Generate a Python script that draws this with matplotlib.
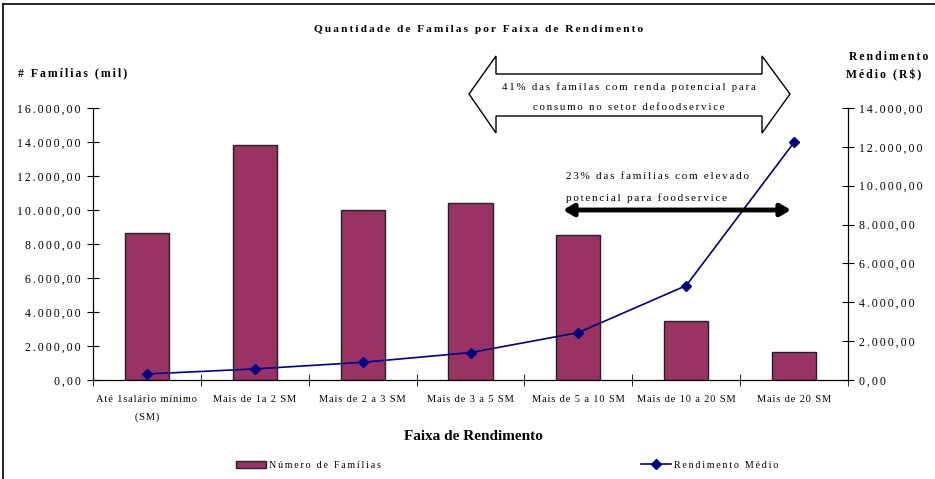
import matplotlib.pyplot as plt
from matplotlib.patches import Polygon, FancyArrowPatch, Rectangle
from matplotlib.ticker import FuncFormatter, FixedLocator
from matplotlib.lines import Line2D

faixas = ['Até 1salário mínimo\n(SM)', 'Mais de 1a 2 SM', 'Mais de 2 a 3 SM',
          'Mais de 3 a 5 SM', 'Mais de 5 a 10 SM', 'Mais de 10 a 20 SM',
          'Mais de 20 SM']
familias = [8660, 13800, 10020, 10430, 8530, 3490, 1630]
rendimento = [310, 570, 910, 1410, 2440, 4860, 12230]

plt.rcParams['font.family'] = ['Liberation Serif', 'DejaVu Serif']

def sp(s, n=2):
    # fake letter spacing with hair spaces
    return ('\u200a' * n).join(s)

def br(v, pos=None):
    s = '{:,.2f}'.format(v).replace(',', 'X').replace('.', ',').replace('X', '.')
    return sp(s)

W, H = 935, 479
fig = plt.figure(figsize=(W / 100, H / 100), dpi=100)

def fx(px):
    return px / W

def fy(py):
    return 1 - py / H

# border (top and left only)
fig.add_artist(Line2D([fx(3), fx(3)], [0, fy(4)], color='black', lw=1.2))
fig.add_artist(Line2D([fx(3), 1], [fy(4), fy(4)], color='black', lw=1.2))

ax = fig.add_axes([fx(93), fy(380), fx(848) - fx(93), fy(108) - fy(380)])
x = list(range(len(faixas)))
ax.bar(x, familias, width=0.41, color='#993366', edgecolor='#222222', linewidth=1, zorder=2)
ax.set_xlim(-0.5, len(faixas) - 0.5)
ax.set_ylim(0, 16000)
ax.set_yticks(range(0, 16001, 2000))
ax.yaxis.set_major_formatter(FuncFormatter(br))
ax.set_xticks(x)
ax.set_xticklabels([sp(f, 1) for f in faixas], fontsize=7.5, linespacing=2.1)
ax.xaxis.set_minor_locator(FixedLocator([i - 0.5 for i in range(len(faixas) + 1)]))
ax.tick_params(axis='x', which='major', length=0, pad=11)
ax.tick_params(axis='x', which='minor', length=8, direction='inout')
ax.tick_params(axis='y', direction='inout', length=8, labelsize=8.5, pad=5)
ax.spines['top'].set_visible(False)

ax2 = ax.twinx()
ax2.plot(x, rendimento, color='#000080', lw=1.2, marker='D', markersize=5.5, zorder=3)
ax2.set_ylim(0, 14000)
ax2.set_yticks(range(0, 14001, 2000))
ax2.yaxis.set_major_formatter(FuncFormatter(br))
ax2.tick_params(axis='y', direction='inout', length=8, labelsize=8.5, pad=4)
ax2.spines['top'].set_visible(False)

fig.text(fx(479), fy(29), sp('Quantidade de Famílas por Faixa de Rendimento'),
         ha='center', va='center', fontsize=8.2, fontweight='bold')
fig.text(fx(18), fy(73), sp('# Famílias (mil)'), ha='left', va='center',
         fontsize=8.5, fontweight='bold')
fig.text(fx(928), fy(57), sp('Rendimento'), ha='right', va='center',
         fontsize=8.5, fontweight='bold')
fig.text(fx(921), fy(75), sp('Médio (R$)'), ha='right', va='center',
         fontsize=8.5, fontweight='bold')
fig.text(fx(473), fy(437), 'Faixa de Rendimento', ha='center', va='center',
         fontsize=11, fontweight='bold')

# hollow double arrow
pts = [(469, 94), (496, 56), (496, 74), (762, 74), (762, 56), (790, 94),
       (762, 133), (762, 116), (496, 116), (496, 133)]
fig.add_artist(Polygon([(fx(a), fy(b)) for a, b in pts], closed=True,
                       facecolor='white', edgecolor='black', lw=1))
fig.text(fx(629), fy(87), sp('41% das famílas com renda potencial para'),
         ha='center', va='center', fontsize=7.8)
fig.text(fx(629), fy(107), sp('consumo no setor defoodservice'),
         ha='center', va='center', fontsize=7.8)

# solid double arrow
fig.add_artist(FancyArrowPatch((fx(563), fy(210)), (fx(791), fy(210)),
                               arrowstyle='<|-|>,head_length=6,head_width=3.5',
                               color='black', lw=3.5, shrinkA=0, shrinkB=0))
fig.text(fx(566), fy(177), sp('23% das famílias com elevado'),
         ha='left', va='center', fontsize=8)
fig.text(fx(566), fy(198), sp('potencial para foodservice'),
         ha='left', va='center', fontsize=8)

# legend
h1 = Rectangle((0, 0), 1, 1, facecolor='#993366', edgecolor='#222222')
h2 = Line2D([], [], color='#000080', marker='D', markersize=5.5, lw=1.2)
fig.legend([h1, h2], [sp('Número de Famílias'), sp('Rendimento Médio')],
           loc='center', bbox_to_anchor=(fx(507), fy(465)), ncol=2, frameon=False,
           fontsize=7.2, columnspacing=26, handlelength=3, handletextpad=0.3)

fig.savefig('out.png', dpi=100)
